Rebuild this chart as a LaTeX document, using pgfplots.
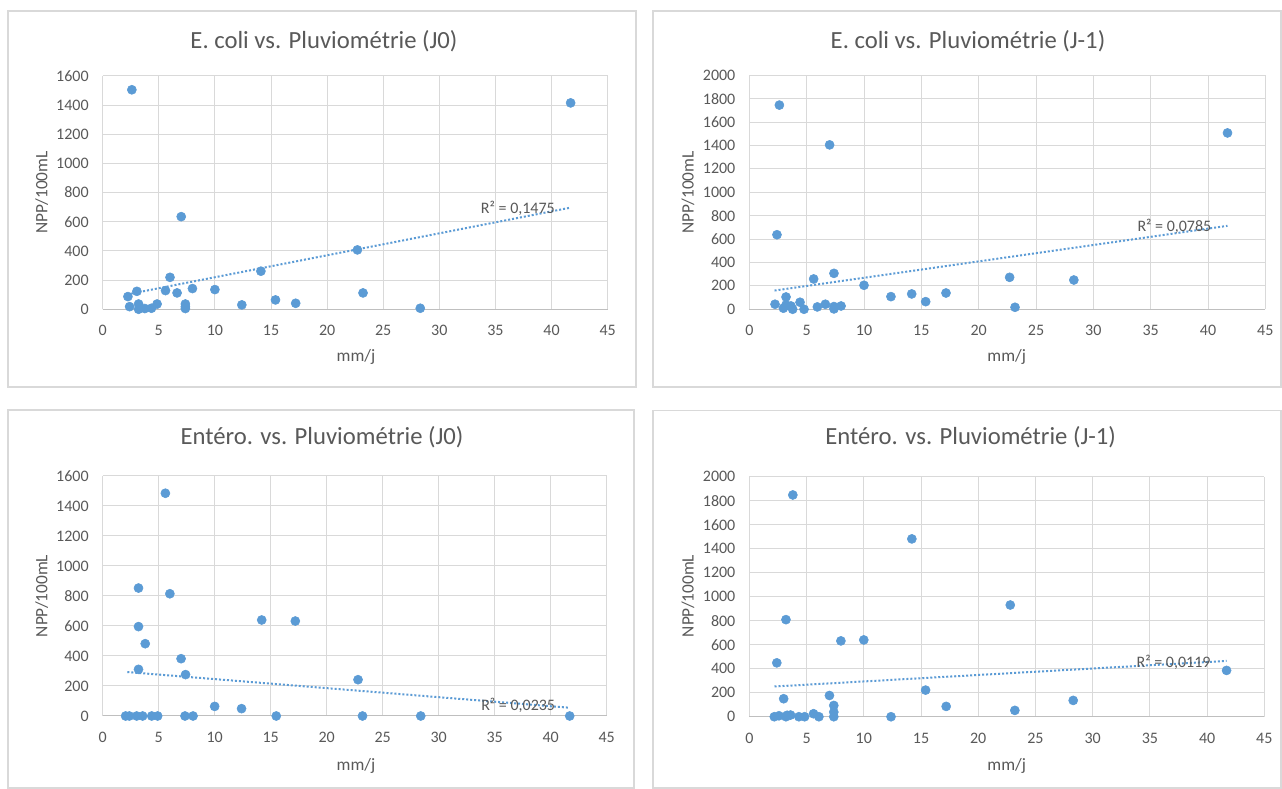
\documentclass[border=0pt]{standalone}
\usepackage{pgfplots}
\pgfplotsset{compat=1.18}
\usepackage{fontspec}
\setmainfont{Carlito}
\definecolor{mblue}{HTML}{5B9BD5}
\definecolor{gridc}{HTML}{D9D9D9}
\definecolor{txt}{HTML}{595959}
\definecolor{axc}{HTML}{BFBFBF}
\pgfplotsset{
 myax/.style={scale only axis, anchor=south west, xmin=0, xmax=45, ymin=0,
   xtick distance=5, ytick distance=200, grid=major,
   major grid style={gridc, line width=0.75pt},
   axis line style={draw=none}, tick style={draw=none}, clip=false,
   ticklabel style={font=\fontsize{12}{14}\selectfont, text=txt},
   /pgf/number format/assume math mode=true, /pgf/number format/1000 sep={},
   yticklabel style={inner sep=0pt, xshift=-10.3pt},
   xticklabel style={inner sep=0pt, yshift=-12pt},
   enlargelimits=false},
 pts/.style={only marks, mark=*, mark size=3.4pt, mark options={fill=mblue, draw=mblue}},
 trend/.style={mblue, line width=1.5pt, dash pattern=on 1.5pt off 1.5pt, no marks}
}
\tikzset{
 ttl/.style={text=txt, font=\fontsize{18.5}{22}\selectfont, inner sep=0pt},
 lab/.style={text=txt, font=\fontsize{13}{15}\selectfont, inner sep=0pt},
 box/.style={draw=gridc, line width=0.9pt},
 r2/.style={text=txt, font=\fontsize{12}{14}\selectfont, inner sep=0pt}
}
\begin{document}
\begin{tikzpicture}
\fill[white] (0,0) rectangle (961.5pt,591.75pt);
\path[use as bounding box] (0,0) rectangle (961.5pt,591.75pt);
% panel frames
\draw[box] (6pt,301.5pt) rectangle (477pt,583.5pt);
\draw[box] (489.75pt,301.5pt) rectangle (960.75pt,583.5pt);
\draw[box] (6pt,0.75pt) rectangle (475.5pt,284.25pt);
\draw[box] (489.75pt,0.75pt) rectangle (960.75pt,283.7pt);
% titles
\node[ttl] at (243pt,561pt) {E. coli vs. Pluviométrie (J0)};
\node[ttl] at (726pt,561pt) {E. coli vs. Pluviométrie (J-1)};
\node[ttl] at (241.5pt,264pt) {Entéro. vs. Pluviométrie (J0)};
\node[ttl] at (728pt,264pt) {Entéro. vs. Pluviométrie (J-1)};
% axis labels
\node[lab, rotate=90] at (31.25pt,447.4pt) {NPP/100mL};
\node[lab, rotate=90] at (516pt,447.4pt) {NPP/100mL};
\node[lab, rotate=90] at (31.25pt,144.75pt) {NPP/100mL};
\node[lab, rotate=90] at (516pt,144.75pt) {NPP/100mL};
\node[lab] at (267pt,324pt) {mm/j};
\node[lab] at (755pt,324pt) {mm/j};
\node[lab] at (267pt,17.25pt) {mm/j};
\node[lab] at (755pt,17.25pt) {mm/j};

% Panel 1
\begin{axis}[myax, at={(77pt,359.8pt)}, width=378.75pt, height=175pt, ymax=1600]
\draw[axc, line width=0.75pt] (axis cs:0,0) -- (axis cs:45,0);
\addplot[pts] coordinates {
(2.25,87) (2.4,18) (2.6,1505) (3.05,123) (3.2,36) (3.2,0) (3.76,5) (4.35,7)
(4.85,36) (5.6,128) (6.0,219) (6.63,112) (7.0,635) (7.37,36) (7.37,18) (7.37,5)
(8.0,142) (10.0,135) (12.4,30) (14.1,261) (15.4,64) (17.2,41) (22.7,407)
(23.2,112) (28.3,7) (41.7,1415)};
\addplot[trend] coordinates {(2.2,102) (41.7,697)};
\node[r2] at (axis cs:37,695) {R² = 0,1475};
\end{axis}

% Panel 2
\begin{axis}[myax, at={(562pt,359.8pt)}, width=387pt, height=175.5pt, ymax=2000]
\draw[axc, line width=0.75pt] (axis cs:0,0) -- (axis cs:45,0);
\addplot[pts] coordinates {
(2.24,43) (2.41,637) (2.62,1745) (2.97,9) (3.2,105) (3.2,37) (3.63,28) (3.78,0)
(4.42,60) (4.77,0) (5.61,259) (5.93,20) (6.63,43) (7.0,1405) (7.38,307) (7.38,3)
(7.38,23) (8.0,28) (10.0,205) (12.35,108) (14.16,131) (15.38,65) (17.15,139)
(22.7,273) (23.17,17) (28.3,250) (41.7,1507)};
\addplot[trend] coordinates {(2.2,160) (41.7,713)};
\node[r2] at (axis cs:37.07,705) {R² = 0,0785};
\end{axis}

% Panel 3
\begin{axis}[myax, at={(77pt,54.75pt)}, width=378pt, height=180pt, ymax=1600]
\draw[axc, line width=0.75pt] (axis cs:0,0) -- (axis cs:45,0);
\addplot[pts] coordinates {
(2.05,0) (2.38,0) (3.04,0) (3.57,0) (4.38,0) (4.91,0) (7.35,0) (8.07,0)
(15.5,0) (23.2,0) (28.4,0) (41.7,0) (5.6,1485) (3.2,853) (6.0,815) (3.2,596)
(3.8,482) (7.0,382) (3.2,311) (7.4,276) (14.2,640) (17.2,633) (22.8,242)
(10.0,64) (12.4,49)};
\addplot[trend] coordinates {(2.2,293) (41.7,55)};
\node[r2] at (axis cs:37.1,73) {R² = 0,0235};
\end{axis}

% Panel 4
\begin{axis}[myax, at={(562pt,54.2pt)}, width=386.25pt, height=180pt, ymax=2000]
\draw[axc, line width=0.75pt] (axis cs:0,0) -- (axis cs:45,0);
\addplot[pts] coordinates {
(3.8,1848) (14.2,1482) (22.8,931) (3.2,809) (8.0,632) (10.0,640) (2.4,449)
(15.4,222) (3.0,150) (7.0,177) (7.38,94) (7.38,39) (7.38,0) (17.2,86) (23.2,53)
(12.38,0) (2.18,0) (2.59,8) (3.2,0) (3.3,12) (3.6,14) (4.33,0) (4.83,0) (5.61,25)
(6.08,0) (28.3,136) (41.7,386)};
\addplot[trend] coordinates {(2.2,252) (41.7,465)};
\node[r2] at (axis cs:37.07,457) {R² = 0,0119};
\end{axis}
\end{tikzpicture}
\end{document}
